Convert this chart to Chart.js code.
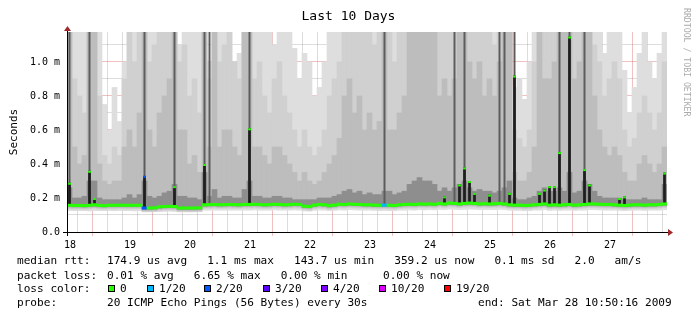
<!DOCTYPE html>
<html>
<head>
<meta charset="utf-8">
<script src="https://cdn.jsdelivr.net/npm/chart.js@4/dist/chart.umd.min.js"></script>
<style>
  body { margin: 0; background: #fff; }
  #wrap { position: relative; width: 697px; height: 321px; font-family: "DejaVu Sans Mono", monospace; }
  #wrap canvas { position: absolute; left: 0; top: 0; }
  .txt { position: absolute; white-space: pre; color: #000; font-size: 11.1px; line-height: 13px; }
  .box { position: absolute; top: 285px; width: 7px; height: 7px; box-sizing: border-box; border: 1px solid #000; }
  #title { position: absolute; left: 0; top: 8px; width: 697px; text-align: center; font-size: 13px; line-height: 15px; }
  #credit { position: absolute; left: 682px; top: 8px; writing-mode: vertical-rl; font-size: 8.2px; color: #ababab; white-space: pre; }
</style>
</head>
<body>
<div id="wrap">
  <canvas id="smoke" width="697" height="321"></canvas>
  <div id="title">Last 10 Days</div>
  <div id="credit">RRDTOOL / TOBI OETIKER</div>
  <div class="txt" style="left:17px;top:254px">median rtt:</div>
  <div class="txt" style="left:107px;top:254px">174.9 us avg   1.1 ms max   143.7 us min   359.2 us now   0.1 ms sd   2.0   am/s</div>
  <div class="txt" style="left:17px;top:269px">packet loss:</div>
  <div class="txt" style="left:107px;top:269px">0.01 % avg   6.65 % max   0.00 % min</div>
  <div class="txt" style="left:383px;top:269px">0.00 % now</div>
  <div class="txt" style="left:17px;top:282px">loss color:</div>
  <div id="lossLegend"></div>
  <div class="txt" style="left:17px;top:296px">probe:</div>
  <div class="txt" style="left:107px;top:296px">20 ICMP Echo Pings (56 Bytes) every 30s</div>
  <div class="txt" style="left:478px;top:296px">end: Sat Mar 28 10:50:16 2009</div>
</div>
<script>
// one slot = 2 hours, 12 slots per day, 10 days (Mar 18 10:50 -> Mar 28 10:50)
// values in ms ("m" on the axis)
const dayLabels = ['18', '19', '20', '21', '22', '23', '24', '25', '26', '27'];

const median = [
  0.157, 0.156, 0.156, 0.155, 0.157, 0.160, 0.156, 0.155, 0.157, 0.157, 0.158, 0.157,
  0.157, 0.157, 0.157, 0.141, 0.141, 0.142, 0.148, 0.150, 0.151, 0.150, 0.141, 0.141,
  0.141, 0.141, 0.142, 0.160, 0.161, 0.162, 0.160, 0.161, 0.162, 0.161, 0.160, 0.162,
  0.162, 0.163, 0.162, 0.160, 0.161, 0.163, 0.162, 0.160, 0.161, 0.163, 0.162, 0.152,
  0.150, 0.158, 0.162, 0.160, 0.155, 0.158, 0.163, 0.162, 0.165, 0.163, 0.162, 0.160,
  0.160, 0.158, 0.157, 0.158, 0.157, 0.156, 0.160, 0.162, 0.163, 0.162, 0.165, 0.164,
  0.165, 0.163, 0.168, 0.165, 0.170, 0.168, 0.165, 0.168, 0.170, 0.168, 0.165, 0.166,
  0.165, 0.166, 0.168, 0.165, 0.160, 0.158, 0.158, 0.156, 0.157, 0.160, 0.162, 0.165,
  0.158, 0.160, 0.158, 0.160, 0.162, 0.158, 0.160, 0.162, 0.165, 0.165, 0.163, 0.162,
  0.162, 0.160, 0.158, 0.156, 0.158, 0.160, 0.160, 0.158, 0.160, 0.160, 0.162, 0.165
];

const minRtt = [
  0.125, 0.125, 0.126, 0.125, 0.124, 0.126, 0.125, 0.125, 0.126, 0.125, 0.126, 0.125,
  0.125, 0.124, 0.125, 0.118, 0.118, 0.119, 0.120, 0.121, 0.122, 0.121, 0.118, 0.118,
  0.118, 0.118, 0.119, 0.128, 0.128, 0.129, 0.128, 0.128, 0.129, 0.128, 0.128, 0.129,
  0.129, 0.130, 0.129, 0.128, 0.128, 0.130, 0.129, 0.128, 0.128, 0.130, 0.129, 0.124,
  0.122, 0.127, 0.129, 0.128, 0.125, 0.127, 0.130, 0.129, 0.131, 0.130, 0.129, 0.128,
  0.128, 0.127, 0.126, 0.127, 0.126, 0.125, 0.128, 0.129, 0.130, 0.129, 0.131, 0.130,
  0.131, 0.130, 0.133, 0.131, 0.134, 0.133, 0.131, 0.133, 0.134, 0.133, 0.131, 0.132,
  0.131, 0.132, 0.133, 0.131, 0.128, 0.127, 0.127, 0.125, 0.126, 0.128, 0.129, 0.131,
  0.127, 0.128, 0.127, 0.128, 0.129, 0.127, 0.128, 0.129, 0.131, 0.131, 0.130, 0.129,
  0.129, 0.128, 0.127, 0.125, 0.127, 0.128, 0.128, 0.127, 0.128, 0.128, 0.129, 0.131
];

const maxRtt = [
  1.2, 1.2, 1.2, 1.2, 1.2, 1.2, 1.2, 0.75, 0.6, 0.85, 0.65, 1.0,
  1.2, 1.2, 1.2, 1.2, 1.2, 1.2, 1.2, 1.2, 1.2, 1.2, 1.1, 1.2,
  1.2, 1.2, 1.2, 1.2, 1.0, 1.2, 1.2, 1.2, 1.2, 1.0, 1.05, 1.2,
  1.2, 1.2, 1.2, 1.2, 1.2, 1.1, 1.2, 1.2, 1.2, 1.08, 0.9, 1.05,
  1.0, 0.8, 0.85, 1.0, 1.2, 1.2, 1.2, 1.2, 1.2, 1.2, 1.2, 1.2,
  1.2, 1.2, 1.2, 1.2, 1.2, 1.2, 1.2, 1.2, 1.2, 1.2, 1.2, 1.2,
  1.2, 1.2, 1.2, 1.2, 1.2, 1.2, 1.2, 1.2, 1.2, 1.2, 1.2, 1.2,
  1.2, 1.2, 1.2, 1.2, 1.2, 0.85, 0.9, 0.78, 1.0, 1.2, 1.2, 1.2,
  1.2, 1.2, 1.2, 1.2, 1.2, 1.2, 1.2, 1.2, 1.2, 1.2, 1.2, 1.05,
  1.2, 1.2, 1.2, 0.95, 0.7, 0.85, 1.05, 1.2, 1.0, 0.9, 1.05, 1.2
];

const upperRtt = [
  1.2, 0.9, 0.8, 0.7, 1.2, 1.2, 0.8, 0.45, 0.4, 0.5, 0.45, 0.9,
  1.2, 1.0, 1.2, 1.2, 1.0, 1.1, 1.2, 1.2, 1.2, 1.2, 1.0, 1.1,
  0.8, 0.9, 0.7, 1.2, 0.9, 1.2, 1.0, 1.1, 1.2, 1.0, 0.9, 1.2,
  1.2, 0.9, 1.0, 0.8, 0.7, 0.9, 1.0, 0.8, 0.7, 0.6, 0.5, 0.6,
  0.5, 0.45, 0.5, 0.6, 0.8, 0.9, 1.0, 1.2, 1.2, 1.2, 1.2, 1.2,
  1.2, 1.1, 1.2, 1.2, 1.2, 1.0, 1.2, 1.2, 1.2, 1.2, 1.2, 1.2,
  1.2, 1.2, 1.2, 1.2, 1.2, 1.2, 1.2, 1.2, 1.2, 1.2, 1.2, 1.2,
  1.2, 1.1, 1.2, 1.2, 1.2, 0.6, 0.55, 0.5, 0.6, 1.0, 1.2, 1.2,
  1.2, 1.2, 1.2, 1.2, 1.2, 1.2, 1.2, 1.2, 1.2, 1.1, 1.0, 0.8,
  0.9, 1.0, 0.9, 0.6, 0.5, 0.55, 0.7, 0.8, 0.7, 0.6, 0.7, 1.0
];

const innerRtt = [
  1.2, 0.5, 0.4, 0.45, 1.2, 1.2, 0.4, 0.3, 0.28, 0.3, 0.3, 0.5,
  0.6, 0.5, 0.7, 1.2, 0.6, 0.5, 0.7, 0.8, 0.9, 1.2, 0.6, 0.6,
  0.4, 0.45, 0.35, 1.2, 0.5, 1.2, 0.5, 0.6, 0.6, 0.5, 0.45, 1.2,
  1.2, 0.5, 0.5, 0.45, 0.4, 0.5, 0.5, 0.45, 0.4, 0.35, 0.3, 0.35,
  0.3, 0.28, 0.3, 0.35, 0.4, 0.45, 0.55, 0.8, 0.9, 0.7, 0.8, 0.6,
  0.7, 0.6, 0.65, 1.2, 0.6, 0.6, 0.7, 0.8, 1.2, 1.2, 1.2, 1.2,
  1.2, 1.2, 0.8, 0.9, 0.8, 0.9, 1.2, 1.2, 1.0, 0.9, 1.0, 0.8,
  0.9, 0.8, 1.0, 1.2, 1.2, 0.35, 0.3, 0.3, 0.35, 0.5, 1.2, 0.9,
  0.9, 1.0, 1.2, 1.2, 1.2, 0.9, 1.0, 1.2, 1.2, 0.8, 0.6, 0.5,
  0.45, 0.5, 0.45, 0.35, 0.3, 0.3, 0.4, 0.45, 0.4, 0.35, 0.4, 0.5
];

const coreRtt = [
  0.26, 0.2, 0.2, 0.21, 0.3, 0.3, 0.2, 0.19, 0.19, 0.19, 0.19, 0.2,
  0.22, 0.2, 0.22, 0.3, 0.21, 0.2, 0.21, 0.23, 0.24, 0.28, 0.21, 0.21,
  0.2, 0.2, 0.19, 0.35, 0.21, 0.25, 0.2, 0.21, 0.21, 0.2, 0.2, 0.25,
  0.3, 0.21, 0.21, 0.2, 0.2, 0.21, 0.21, 0.2, 0.2, 0.19, 0.19, 0.19,
  0.19, 0.19, 0.2, 0.2, 0.2, 0.21, 0.22, 0.24, 0.25, 0.23, 0.24, 0.22,
  0.23, 0.22, 0.22, 0.24, 0.24, 0.22, 0.23, 0.24, 0.28, 0.3, 0.32, 0.3,
  0.3, 0.28, 0.24, 0.26, 0.24, 0.26, 0.28, 0.3, 0.26, 0.24, 0.25, 0.24,
  0.24, 0.23, 0.24, 0.26, 0.3, 0.2, 0.19, 0.19, 0.2, 0.21, 0.24, 0.26,
  0.24, 0.24, 0.26, 0.24, 0.35, 0.23, 0.24, 0.3, 0.28, 0.24, 0.21, 0.2,
  0.2, 0.2, 0.2, 0.19, 0.19, 0.19, 0.19, 0.2, 0.19, 0.19, 0.19, 0.28
];

// thin dark streaks reaching the top (0 = none)
const streakTop = [
  1.2, 0, 0, 0, 1.2, 0, 0, 0, 0, 0, 0, 0,
  0, 0, 0, 1.2, 0, 0, 0, 0, 0, 1.2, 0, 0,
  0, 0, 0, 1.2, 1.2, 0, 0, 0, 0, 0, 0, 0,
  1.2, 0, 0, 0, 0, 0, 0, 0, 0, 0, 0, 0,
  0, 0, 0, 0, 0, 0, 0, 0, 0, 0, 0, 0,
  0, 0, 0, 1.2, 0, 0, 0, 0, 0, 0, 0, 0,
  0, 0, 0, 0, 0, 1.2, 0, 1.2, 0, 0, 0, 0,
  0, 0, 1.2, 1.2, 0, 1.2, 0, 0, 0, 0, 0, 0,
  0, 0, 1.2, 0, 1.2, 0, 0, 1.2, 0, 0, 0, 0,
  0, 0, 0, 0, 0, 0, 0, 0, 0, 0, 0, 0
];

// short median jumps (0 = none)
const spikeRtt = [
  0.29, 0, 0, 0, 0.36, 0.2, 0, 0, 0, 0, 0, 0,
  0, 0, 0, 0.33, 0, 0, 0, 0, 0, 0.27, 0, 0,
  0, 0, 0, 0.40, 0, 0, 0, 0, 0, 0, 0, 0,
  0.61, 0, 0, 0, 0, 0, 0, 0, 0, 0, 0, 0,
  0, 0, 0, 0, 0, 0, 0, 0, 0, 0, 0, 0,
  0, 0, 0, 0, 0, 0, 0, 0, 0, 0, 0, 0,
  0, 0, 0, 0.21, 0, 0, 0.28, 0.38, 0.3, 0.23, 0, 0,
  0.22, 0, 0, 0, 0.23, 0.92, 0, 0, 0, 0, 0.23, 0.25,
  0.27, 0.27, 0.47, 0, 1.15, 0, 0, 0.37, 0.28, 0, 0, 0,
  0, 0, 0.2, 0.21, 0, 0, 0, 0, 0, 0, 0, 0.35
];

// slots with packet loss: slot index and lost pings out of 20
const lossSlots = [15, 63];
const lossCounts = [2, 1];

const lossLevels = ['0', '1/20', '2/20', '3/20', '4/20', '10/20', '19/20'];
const lossCounts20 = [0, 1, 2, 3, 4, 10, 19];
const lossColors = ['#26ff00', '#00b8ff', '#0059ff', '#5e00ff', '#7e00ff', '#dd00ff', '#ff0000'];

const FONT = '"DejaVu Sans Mono", monospace';
const firstGridHour = 70 / 60;   // Mar 18 12:00, graph starts 10:50
const majorRed = 'rgba(210, 60, 60, 0.32)';
const minorGrey = 'rgba(120, 120, 120, 0.25)';

// loss legend
const legendX = [108, 147, 204, 263, 321, 379, 444];
const lossLegend = document.getElementById('lossLegend');
lossLevels.forEach((lbl, i) => {
    const b = document.createElement('div');
    b.className = 'box';
    b.style.left = legendX[i] + 'px';
    b.style.background = lossColors[i];
    lossLegend.appendChild(b);
    const t = document.createElement('div');
    t.className = 'txt';
    t.style.left = (legendX[i] + 12) + 'px';
    t.style.top = '282px';
    t.textContent = lbl;
    lossLegend.appendChild(t);
});

function lossColorFor(slot) {
    const k = lossSlots.indexOf(slot);
    if (k < 0) return lossColors[0];
    return lossColors[lossCounts20.indexOf(lossCounts[k])];
}

const isMidnight = c => c.tick && Math.round((c.tick.value - firstGridHour) / 6) % 4 === 2;
const isMajorY = c => c.tick && Math.round(c.tick.value * 10) % 2 === 0;

const hours = median.map((_, i) => 2 * i + 1);
const slotIdx = hours.map((_, i) => i);
const spikeIdx = slotIdx.filter(i => spikeRtt[i] > 0);
const streakIdx = slotIdx.filter(i => streakTop[i] > 0);

const smokeBar = (color, order, lo, hi) => ({
    type: 'bar',
    data: hours.map((h, i) => ({ x: h, y: [lo(i), hi(i)] })),
    backgroundColor: color,
    barPercentage: 1,
    categoryPercentage: 1,
    grouped: false,
    order: order
});

const axesPlugin = {
    id: 'rrdAxes',
    afterDraw(chart) {
        const { ctx, chartArea: a } = chart;
        ctx.save();
        ctx.strokeStyle = '#000';
        ctx.lineWidth = 1;
        ctx.beginPath();
        ctx.moveTo(a.left - 4, a.bottom + 0.5);
        ctx.lineTo(a.right + 2, a.bottom + 0.5);
        ctx.moveTo(a.left + 0.5, a.top - 3);
        ctx.lineTo(a.left + 0.5, a.bottom + 4);
        ctx.stroke();
        ctx.fillStyle = '#a02828';
        ctx.beginPath();
        ctx.moveTo(a.left - 3, a.top - 1);
        ctx.lineTo(a.left + 4, a.top - 1);
        ctx.lineTo(a.left + 0.5, a.top - 6);
        ctx.closePath();
        ctx.fill();
        ctx.beginPath();
        ctx.moveTo(a.right + 1, a.bottom - 3);
        ctx.lineTo(a.right + 1, a.bottom + 4);
        ctx.lineTo(a.right + 6, a.bottom + 0.5);
        ctx.closePath();
        ctx.fill();
        ctx.restore();
    }
};

new Chart(document.getElementById('smoke'), {
    data: {
        datasets: [
            smokeBar('#dedede', 9, i => minRtt[i], i => maxRtt[i]),
            smokeBar('#d0d0d0', 8, i => median[i] - 0.022, i => upperRtt[i]),
            smokeBar('#bdbdbd', 7, i => median[i] - 0.015, i => innerRtt[i]),
            smokeBar('#8e8e8e', 6, i => median[i] - 0.008, i => coreRtt[i]),
            {
                type: 'bar',
                data: streakIdx.map(i => ({ x: hours[i], y: [median[i], streakTop[i]] })),
                backgroundColor: '#5c5c5c',
                barPercentage: 0.4,
                categoryPercentage: 1,
                grouped: false,
                order: 4
            },
            {
                type: 'bar',
                data: spikeIdx.map(i => ({ x: hours[i], y: [median[i], spikeRtt[i]] })),
                backgroundColor: '#1e1e1e',
                barPercentage: 0.55,
                categoryPercentage: 1,
                grouped: false,
                order: 3
            },
            {
                type: 'bar',
                data: hours.map((h, i) => ({ x: h, y: [median[i] - 0.007, median[i] + 0.007] })),
                backgroundColor: ctx => lossColorFor(ctx.dataIndex),
                barPercentage: 1,
                categoryPercentage: 1,
                grouped: false,
                order: 2
            },
            {
                type: 'bar',
                data: spikeIdx.map(i => ({ x: hours[i], y: [spikeRtt[i] - 0.012, spikeRtt[i]] })),
                backgroundColor: ctx => lossColorFor(spikeIdx[ctx.dataIndex]),
                barPercentage: 0.55,
                categoryPercentage: 1,
                grouped: false,
                order: 1
            }
        ]
    },
    options: {
        responsive: false,
        devicePixelRatio: 1,
        animation: false,
        events: [],
        layout: { padding: { left: 0, top: 32, right: 30, bottom: 0 } },
        plugins: { legend: { display: false }, tooltip: { enabled: false }, title: { display: false } },
        scales: {
            x: {
                type: 'linear',
                min: 0,
                max: 240,
                offset: false,
                z: 1,
                afterBuildTicks: s => {
                    const t = [];
                    for (let h = firstGridHour; h < 240; h += 6) t.push({ value: h });
                    s.ticks = t;
                },
                afterFit: s => { s.height = 89; },
                border: { display: false },
                grid: {
                    color: c => (isMidnight(c) ? majorRed : minorGrey),
                    tickColor: c => (isMidnight(c) ? majorRed : 'rgba(0,0,0,0)'),
                    tickLength: 4
                },
                ticks: {
                    autoSkip: false,
                    maxRotation: 0,
                    padding: 3,
                    color: '#000',
                    font: { family: FONT, size: 10 },
                    callback: v => {
                        const k = Math.round((v - firstGridHour) / 6);
                        return k % 4 === 0 ? dayLabels[k / 4] : '';
                    }
                }
            },
            y: {
                min: 0,
                max: 1.176,
                z: 1,
                afterBuildTicks: s => {
                    const t = [];
                    for (let k = 0; k <= 11; k++) t.push({ value: k / 10 });
                    s.ticks = t;
                },
                afterFit: s => { s.width = 67; },
                border: { display: false },
                grid: {
                    color: c => (isMajorY(c) ? majorRed : minorGrey),
                    drawTicks: false
                },
                ticks: {
                    padding: 7,
                    color: '#000',
                    font: { family: FONT, size: 10 },
                    callback: v => {
                        const k = Math.round(v * 10);
                        if (k % 2) return '';
                        return k === 0 ? '0.0' : (k / 10).toFixed(1) + ' m';
                    }
                },
                title: {
                    display: true,
                    text: 'Seconds',
                    color: '#000',
                    font: { family: FONT, size: 11 },
                    padding: { top: 8, bottom: 0 }
                }
            }
        }
    },
    plugins: [axesPlugin]
});
</script>
</body>
</html>
